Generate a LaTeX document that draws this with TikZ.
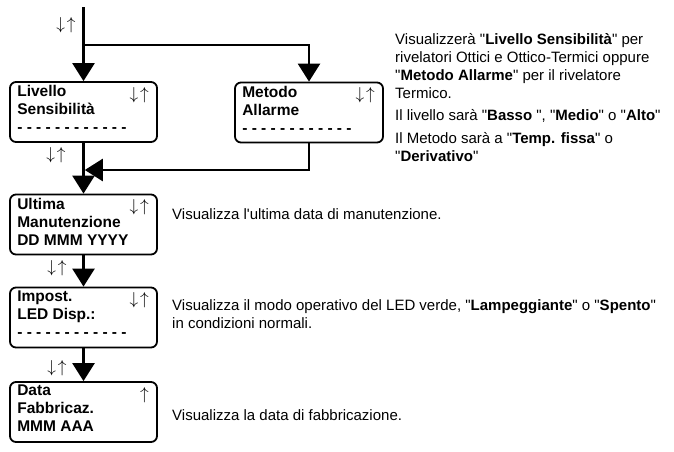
\documentclass[tikz,border=0pt]{standalone}
\usepackage{fontspec}
\setmainfont{Liberation Sans}
\usetikzlibrary{arrows.meta,calc}

\tikzset{
  screen/.style={draw, line width=1.8pt, rounded corners=6pt,
    minimum width=147pt, minimum height=60pt, inner sep=0pt},
  scrtext/.style={anchor=north west, inner sep=0pt, align=left,
    font=\fontsize{15.5}{18}\selectfont\bfseries},
  keys/.style={inner sep=0pt, font=\fontsize{16}{18}\selectfont},
  note/.style={anchor=north west, inner sep=0pt, align=left,
    font=\fontsize{15}{18}\selectfont},
  wire/.style={line width=2.6pt},
  flow/.style={wire, -{Triangle[width=22pt,length=18pt]}},
}
\newcommand{\updn}{$\downarrow\mkern2mu\uparrow$}
\newcommand{\dashrow}{- - - - - - - - - - - -}
\newcommand{\qt}{\textquotedbl}

\begin{document}
\begin{tikzpicture}[x=1pt, y=-1pt]
			%%%%% START %%%%%
			\useasboundingbox (0,0) rectangle (674,451);
			
			% screens
			\node[screen] (sens) at (83.5,112) {};
			\node[screen, minimum width=148pt] (meth) at (309,112.5) {};
			\node[screen] (ult) at (83.5,224.5) {};
			\node[screen] (imp) at (83.5,317.5) {};
			\node[screen] (fab) at (83.5,412) {};
			
			\node[scrtext] (sensT) at ($(sens.north west)+(8,4)$) {Livello\\Sensibilità\\\dashrow};
			\node[scrtext] (methT) at ($(meth.north west)+(8,4)$) {Metodo\\Allarme\\\dashrow};
			\node[scrtext] (ultT) at ($(ult.north west)+(8,4)$) {Ultima\\Manutenzione\\DD MMM YYYY};
			\node[scrtext] (impT) at ($(imp.north west)+(8,4)$) {Impost.\\LED Disp.:\\\dashrow};
			\node[scrtext] (fabT) at ($(fab.north west)+(8,4)$) {Data\\Fabbricaz.\\MMM AAA};
			
			\node[keys, anchor=north east] (sensK) at ($(sens.north east)+(-9,6)$) {\updn};
			\node[keys, anchor=north east] (methK) at ($(meth.north east)+(-9,6)$) {\updn};
			\node[keys, anchor=north east] (ultK) at ($(ult.north east)+(-9,6)$) {\updn};
			\node[keys, anchor=north east] (impK) at ($(imp.north east)+(-9,6)$) {\updn};
			\node[keys, anchor=north east] (fabK) at ($(fab.north east)+(-9,6)$) {$\uparrow$};
			
			% connectors
			\coordinate (top) at (83.5,7);
			\coordinate (split) at (83.5,45);
			\coordinate (join) at (83.5,170);
			
			\draw[flow] (top) -- (sens.north);
			\draw[flow] (split) -| (meth.north);
			\draw[wire] (sens.south) -- (join);
			\draw[flow, shorten >=1.3pt] (meth.south) |- (join);
			\draw[flow] (join) -- (ult.north);
			\draw[flow] (ult.south) -- (imp.north);
			\draw[flow] (imp.south) -- (fab.north);
			
			\node[keys] (k1) at (66,25) {\updn};
			\node[keys] (k2) at (56,155) {\updn};
			\node[keys] (k3) at (57,268) {\updn};
			\node[keys] (k4) at (57,368) {\updn};
			
			% notes
			\node[note] (n1) at (395,33) {Visualizzerà \qt\textbf{Livello Sensibilità}\qt{} per\\rivelatori Ottici e Ottico-Termici oppure\\\qt\textbf{Metodo Allarme}\qt{} per il rivelatore\\Termico.};
			\node[note] (n2) at (395,109) {Il livello sarà \qt\textbf{Basso }\qt, \qt\textbf{Medio}\qt{} o \qt\textbf{Alto}\qt};
			\node[note] (n3) at (395,132) {Il Metodo sarà a \qt\textbf{Temp. fissa}\qt{} o\\\qt\textbf{Derivativo}\qt};
			\node[note] (n4) at (172,208) {Visualizza l\textquotesingle ultima data di manutenzione.};
			\node[note] (n5) at (172,299) {Visualizza il modo operativo del LED verde, \qt\textbf{Lampeggiante}\qt{} o \qt\textbf{Spento}\qt\\in condizioni normali.};
			\node[note] (n6) at (172,409) {Visualizza la data di fabbricazione.};
			%%%%% END %%%%%
\end{tikzpicture}
\end{document}
